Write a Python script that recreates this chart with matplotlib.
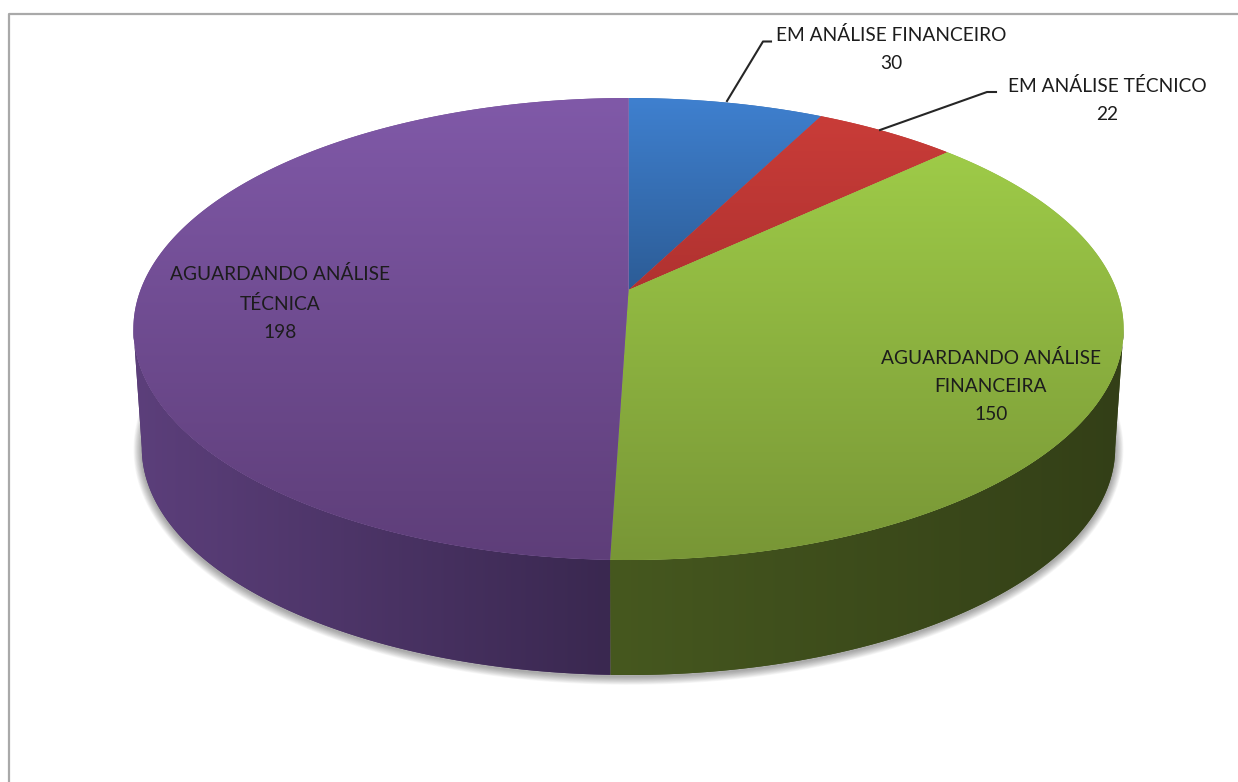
import numpy as np
import matplotlib
matplotlib.use("Agg")
import matplotlib.pyplot as plt
from matplotlib.colors import LinearSegmentedColormap
from matplotlib.patches import Polygon

# --- data, clockwise from 12 o'clock ---
labels = ["EM ANÁLISE FINANCEIRO\n30", "EM ANÁLISE TÉCNICO\n22",
          "AGUARDANDO ANÁLISE\nFINANCEIRA\n150", "AGUARDANDO ANÁLISE\nTÉCNICA\n198"]
values = [30, 22, 150, 198]

# top face gradient (far, near), wall gradient (left, right)
top_colors = [("#3f80cf", "#2c5c96"), ("#c93c38", "#b03230"),
              ("#9ecb48", "#789636"), ("#8059a8", "#5e3e79")]
wall_colors = {2: ("#46581f", "#333f17"), 3: ("#5c3f7b", "#3a2850")}
label_pos = [(891, 49), (1107, 100), (991, 386), (280, 303)]
leaders = [[(727, 101), (763, 41.5), (771, 41.5)], [(880, 130), (987, 92), (996, 92)]]

# --- perspective of the disc, in pixels ---
CX, CY = 628.5, 290
K = 78 / 462
A, B = 488, 224.4
LOW_SCALE, LOW_CY = 0.983, 409.6


def disc(theta, scale=1.0, cy=CY):
    denom = 1 + K * np.cos(theta)
    return CX + scale * A * np.sin(theta) / denom, cy - scale * B * np.cos(theta) / denom


def gradient(ax, poly, c0, c1, horizontal=False, zorder=2):
    # solid backing hides the seams the image clip leaves between faces
    mid = LinearSegmentedColormap.from_list("m", [c0, c1])(0.5)
    ax.add_patch(Polygon(poly, closed=True, fc=mid, ec="none", zorder=zorder))
    x0, y0 = poly.min(axis=0)
    x1, y1 = poly.max(axis=0)
    cmap = LinearSegmentedColormap.from_list("g", [c0, c1])
    ramp = np.linspace(0, 1, 256)
    ramp = ramp.reshape(1, -1) if horizontal else ramp.reshape(-1, 1)
    im = ax.imshow(ramp, cmap=cmap, extent=(x0, x1, y1, y0), aspect="auto", zorder=zorder,
                   origin="upper", interpolation="bilinear")
    patch = Polygon(poly, closed=True, transform=ax.transData, fc="none", ec="none")
    ax.add_patch(patch)
    im.set_clip_path(patch)


fig = plt.figure(figsize=(12.38, 7.82), dpi=100)
ax = fig.add_axes([0, 0, 1, 1])
ax.axis("off")

# outer frame, cut by the picture edge
ax.plot([8.5, 8.5, 1238], [782, 13.5, 13.5], color="#a9a9a9", lw=1.6, zorder=1)

edges = np.concatenate([[0], np.cumsum(values)]) / sum(values) * 2 * np.pi
ext = np.arccos(-K)

# soft shadow under the base
t = np.linspace(ext - 0.35, 2 * np.pi - ext + 0.35, 300)
sx, sy = disc(t, LOW_SCALE, LOW_CY)
for w in range(1, 13):
    ax.plot(sx, sy + 1.5, color="black", alpha=0.03, lw=w, zorder=1.5, solid_capstyle="round")

# side walls
for i, (start, end) in {2: (ext, edges[3]), 3: (edges[3], 2 * np.pi - ext)}.items():
    t = np.linspace(start, end, 200)
    up = np.column_stack(disc(t))
    low = np.column_stack(disc(t, LOW_SCALE, LOW_CY))
    gradient(ax, np.vstack([up, low[::-1]]), wall_colors[i][0], wall_colors[i][1],
             horizontal=True, zorder=2)

# top faces
for i in range(len(values)):
    t = np.linspace(edges[i], edges[i + 1], 300)
    poly = np.vstack([[CX, CY], np.column_stack(disc(t))])
    gradient(ax, poly, top_colors[i][0], top_colors[i][1], zorder=3)

# leader lines
for line in leaders:
    xs, ys = zip(*line)
    ax.plot(xs, ys, color="#262626", lw=1.5, zorder=4)

# data labels
for text, (x, y) in zip(labels, label_pos):
    ax.text(x, y, text, ha="center", va="center", family="Lato", fontsize=13.8,
            color="#1c1c1c", linespacing=1.8, zorder=5)

ax.set_xlim(0, 1238)
ax.set_ylim(782, 0)
fig.savefig("out.png", dpi=100, facecolor="white")
